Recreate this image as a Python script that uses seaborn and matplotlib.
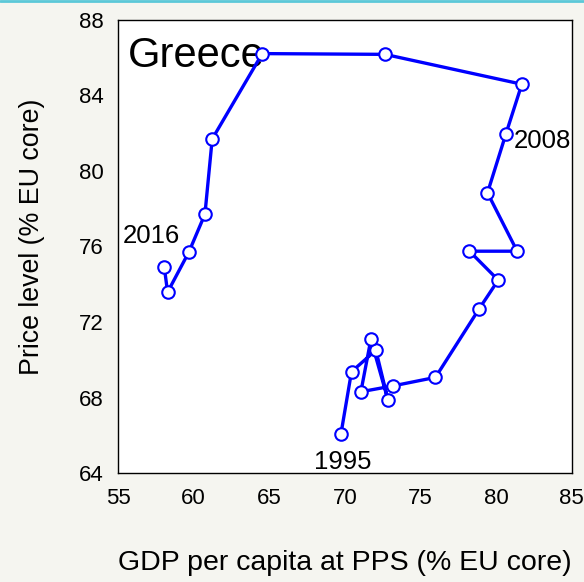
import matplotlib
matplotlib.use("Agg")
import matplotlib.pyplot as plt
from matplotlib.lines import Line2D
import seaborn as sns
import pandas as pd

# Greece, 1995-2016: GDP per capita at PPS vs price level (both % of EU core)
years = list(range(1995, 2017))
gdp_pps = [69.74, 70.44, 72.05, 72.86, 71.72, 71.06, 73.19, 75.99, 78.88, 80.14,
           78.24, 81.39, 79.43, 80.64, 81.70, 72.65, 64.54, 61.23, 60.75, 59.69,
           58.28, 58.06]
price_level = [66.07, 69.37, 70.51, 67.85, 71.08, 68.31, 68.62, 69.07, 72.70, 74.22,
               75.75, 75.75, 78.84, 81.94, 84.59, 86.17, 86.21, 81.69, 77.71, 75.71,
               73.58, 74.92]

x_ticks = [55, 60, 65, 70, 75, 80, 85]
y_ticks = [64, 68, 72, 76, 80, 84, 88]
year_labels = {1995: (67.95, 64.20), 2008: (81.17, 81.19), 2016: (55.31, 76.16)}

df = pd.DataFrame({"year": years, "gdp": gdp_pps, "price": price_level})

sns.set_style("white")
plt.rcParams["font.family"] = ["Liberation Sans", "DejaVu Sans"]
plt.rcParams["text.color"] = "black"
plt.rcParams["axes.labelcolor"] = "black"

bg = "#f5f5f0"
fig = plt.figure(figsize=(5.84, 5.82), dpi=100, facecolor=bg)
ax = fig.add_axes([0.202, 0.187, 0.777, 0.779])
ax.set_facecolor("white")

sns.lineplot(data=df, x="gdp", y="price", sort=False, estimator=None, ax=ax,
             color="#0000ff", linewidth=2.4, marker="o", markersize=9,
             markerfacecolor="white", markeredgecolor="#0000ff",
             markeredgewidth=1.5, zorder=3)

ax.set_xlim(55, 85)
ax.set_ylim(64, 88)
ax.set_xticks(x_ticks)
ax.set_yticks(y_ticks)
ax.tick_params(axis="both", direction="out", length=7, width=1,
               color="#606060", labelsize=16, labelcolor="black", pad=3)
ax.tick_params(axis="x", pad=4)

for side in ["left", "right", "top", "bottom"]:
    ax.spines[side].set_visible(True)
    ax.spines[side].set_color("black")
    ax.spines[side].set_linewidth(1.0)

ax.set_xlabel("GDP per capita at PPS (% EU core)", fontsize=20.5, labelpad=29)
ax.set_ylabel("Price level (% EU core)", fontsize=19.3, labelpad=25)
ax.yaxis.label.set_y(0.522)

ax.text(55.64, 85.50, "Greece", fontsize=30, ha="left", va="baseline", zorder=2)
for yr, (tx, ty) in year_labels.items():
    ax.text(tx, ty, str(yr), fontsize=18.5, ha="left", va="baseline", zorder=4)

# thin accent rule along the top edge of the figure
fig.add_artist(Line2D([0, 1], [0.998, 0.998], transform=fig.transFigure,
                      color="#5bc8d8", linewidth=2))

fig.savefig("out.png", dpi=100, facecolor=bg)
